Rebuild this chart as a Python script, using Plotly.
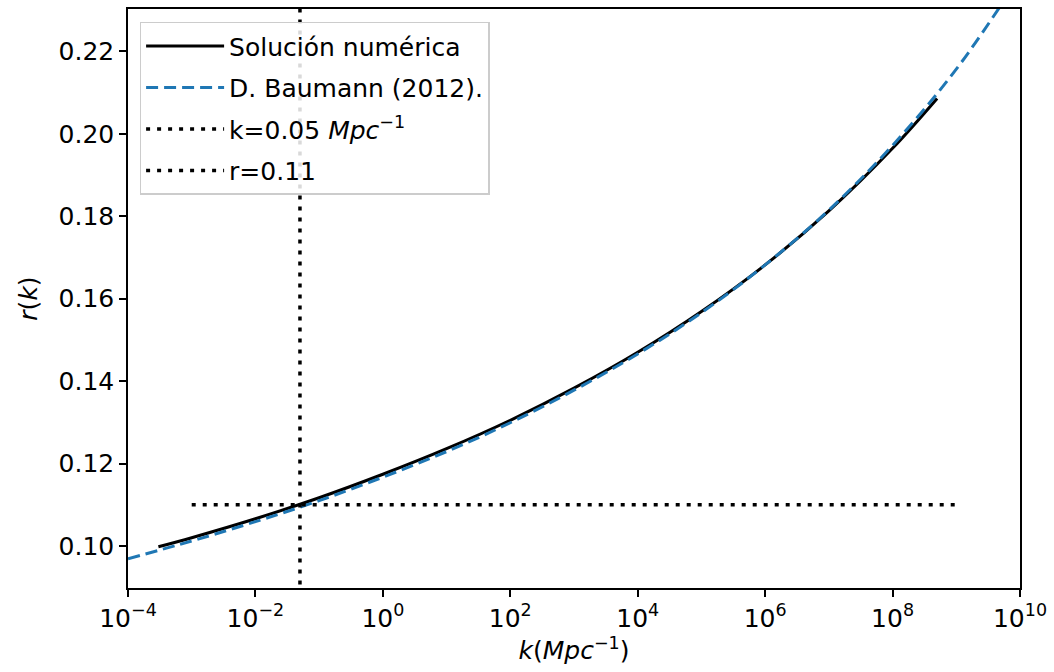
import plotly.graph_objects as go

# Solución numérica
k_num = [3e-4, 1e-3, 1e-2, 1e-1, 1e0, 1e1, 1e2, 1e3, 1e4, 1e5, 1e6, 1e7, 1e8, 5e8]
r_num = [0.0998, 0.1020, 0.1066, 0.1117, 0.1174, 0.1236, 0.1305, 0.1383, 0.1470,
         0.1569, 0.1682, 0.1813, 0.1965, 0.2086]

# D. Baumann (2012)
k_bau = [1e-4, 1e-3, 1e-2, 1e-1, 1e0, 1e1, 1e2, 1e3, 1e4, 1e5, 1e6, 1e7, 1e8, 1e9, 1e10]
r_bau = [0.0969, 0.1012, 0.1059, 0.1110, 0.1167, 0.1229, 0.1299, 0.1378, 0.1466,
         0.1566, 0.1682, 0.1815, 0.1972, 0.2157, 0.2382]

# reference lines
k_vline = [0.05, 0.05]
r_vline = [0.08, 0.24]
k_hline = [1e-3, 1e9]
r_hline = [0.11, 0.11]

x_tickvals = [1e-4, 1e-2, 1e0, 1e2, 1e4, 1e6, 1e8, 1e10]
x_ticktext = ["10<sup>−4</sup>", "10<sup>−2</sup>", "10<sup>0</sup>", "10<sup>2</sup>",
              "10<sup>4</sup>", "10<sup>6</sup>", "10<sup>8</sup>", "10<sup>10</sup>"]
y_tickvals = [0.10, 0.12, 0.14, 0.16, 0.18, 0.20, 0.22]

FONT = "DejaVu Sans"
FS = 25

fig = go.Figure()
fig.add_trace(go.Scatter(x=k_num, y=r_num, mode="lines", name="Solución numérica",
                         line=dict(color="black", width=3, shape="spline"),
                         legendgroup="a"))
fig.add_trace(go.Scatter(x=k_bau, y=r_bau, mode="lines", name="D. Baumann (2012).",
                         line=dict(color="#1f77b4", width=3, dash="12px,6px", shape="spline"),
                         legendgroup="b"))
fig.add_trace(go.Scatter(x=k_vline, y=r_vline, mode="lines",
                         name="k=0.05 <i>Mpc</i><sup>−1</sup>",
                         line=dict(color="black", width=3.5, dash="4px,7px"),
                         legendgroup="c"))
fig.add_trace(go.Scatter(x=k_hline, y=r_hline, mode="lines", name="r=0.11",
                         line=dict(color="black", width=3.5, dash="4px,7px"),
                         legendgroup="d"))

axis_common = dict(showline=True, linecolor="black", linewidth=1.5, mirror=True,
                   ticks="outside", ticklen=7, tickwidth=1.5, tickcolor="black",
                   showgrid=False, zeroline=False,
                   tickfont=dict(family=FONT, size=FS, color="black"))

fig.update_xaxes(type="log", range=[-4, 10], tickvals=x_tickvals, ticktext=x_ticktext,
                 title=dict(text="<i>k</i>(<i>Mpc</i><sup>−1</sup>)",
                            font=dict(family=FONT, size=FS, color="black"), standoff=8),
                 **axis_common)
fig.update_yaxes(range=[0.0898, 0.2303], tickvals=y_tickvals, tickformat=".2f",
                 title=dict(text="<i>r</i>(<i>k</i>)",
                            font=dict(family=FONT, size=FS, color="black"), standoff=14),
                 **axis_common)

fig.update_layout(
    width=1054, height=672,
    margin=dict(l=128, r=34, t=7, b=84),
    plot_bgcolor="white", paper_bgcolor="white",
    font=dict(family=FONT, size=FS, color="black"),
    legend=dict(x=0.013, y=0.978, xanchor="left", yanchor="top",
                bgcolor="rgba(255,255,255,0.85)", bordercolor="#cccccc", borderwidth=1.5,
                font=dict(family=FONT, size=FS, color="black"),
                tracegroupgap=6, traceorder="grouped", itemwidth=78),
    showlegend=True,
)

fig.write_html("out.html")
